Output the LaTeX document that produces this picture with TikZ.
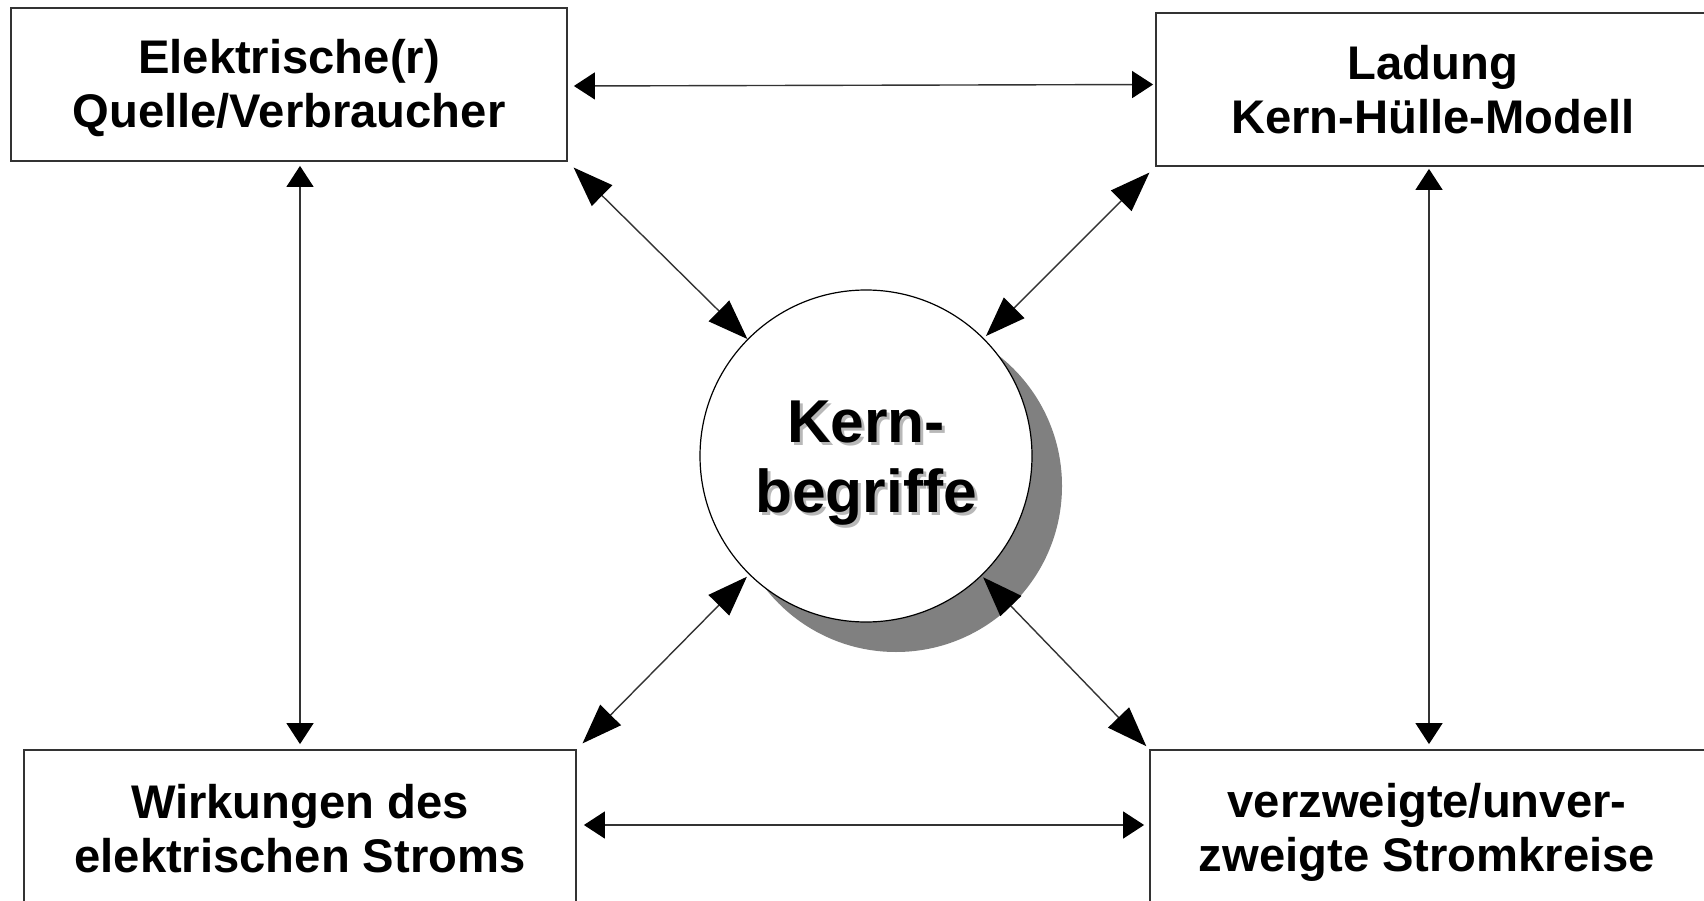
\documentclass[tikz,border=0pt]{standalone}
\usepackage{fontspec}
\setmainfont{Liberation Sans}
\usetikzlibrary{arrows.meta,calc}
\begin{document}
\begin{tikzpicture}[x=1pt,y=1pt,
  box/.style={draw=black!80, line width=1.8pt, fill=white, inner sep=0pt},
  boxtext/.style={align=center, inner sep=0pt, font=\bfseries\fontsize{47.2}{54}\selectfont},
  link/.style={line width=1.4pt, draw=black!80},
  hv/.style={link, {Triangle[length=21pt,width=27pt,color=black]}-{Triangle[length=21pt,width=27pt,color=black]}},
  diag/.style={link, {Triangle[length=40pt,width=29pt,color=black]}-{Triangle[length=40pt,width=29pt,color=black]}},
  kerntext/.style={font=\bfseries\fontsize{60.5}{69.5}\selectfont, align=center, inner sep=0pt}
]
\useasboundingbox (0,0) rectangle (1704,-901);
\clip (0,0) rectangle (1704,-901);
\fill[white] (0,0) rectangle (1704,-901);
% circle with shadow
\fill[black!50] (896,-486) circle (166);
\node[circle, draw=black, line width=1.2pt, fill=white, minimum size=332pt, inner sep=0pt] (kern) at (866,-456) {};
\node[kerntext, text=black!28] (kshadow) at (869,-466) {Kern-\\begriffe};
\node[kerntext] (ktext) at (866,-463) {Kern-\\begriffe};
% boxes
\node[box, minimum width=556pt, minimum height=153pt] (tl) at (289,-84.5) {};
\node[box, minimum width=570pt, minimum height=153pt] (tr) at (1441,-89.5) {};
\node[box, minimum width=552pt, minimum height=170pt] (bl) at (300,-835) {};
\node[box, minimum width=570pt, minimum height=170pt] (br) at (1435,-835) {};
\node[boxtext] (tltext) at (289,-88) {Elektrische(r)\\Quelle/Verbraucher};
\node[boxtext] (trtext) at (1433,-89.5) {Ladung\\Kern-H\"ulle-Modell};
\node[boxtext] (bltext) at (300,-829) {Wirkungen des\\elektrischen Stroms};
\node[boxtext] (brtext) at (1427,-832) {verzweigte/unver-\\zweigte Stromkreise};
% horizontal and vertical connectors
\draw[hv] ([xshift=6pt,yshift=-1.5pt]tl.east) -- ([xshift=-2pt]tl.east -| tr.west);
\draw[hv] ([xshift=7pt,yshift=4pt]bltext.east -| bl.east) -- ([xshift=-5pt,yshift=4pt]bltext.east -| br.west);
\draw[hv] ([yshift=-4pt]bl.north |- tl.south) -- ([yshift=5pt]bl.north);
\draw[hv] ([xshift=-12pt,yshift=-2pt]tr.south) -- ([xshift=-12pt,yshift=5pt]tr.south |- br.north);
% diagonal connectors
\draw[diag, shorten <=8pt] (tl.south east) -- (kern);
\draw[diag, shorten <=8pt, shorten >=3pt] (tr.south west) -- (kern);
\draw[diag, shorten <=8pt, shorten >=3pt] (bl.north east) -- (kern);
\draw[diag, shorten <=4pt, shorten >=2pt] (br.north west) -- (kern);
\end{tikzpicture}
\end{document}
